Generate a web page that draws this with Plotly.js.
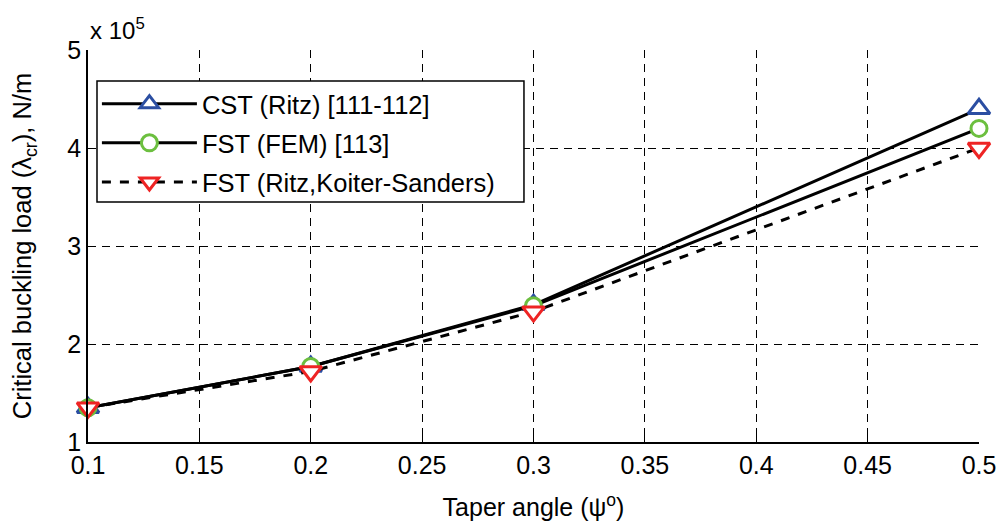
<!DOCTYPE html>
<html><head><meta charset="utf-8">
<script src="https://cdn.plot.ly/plotly-3.0.1.min.js"></script>
<style>body{margin:0;background:#fff}#c{width:1005px;height:523px}</style>
</head><body><div id="c"></div>
<script>
const taper = [0.1, 0.2, 0.3, 0.5];
const cstRitz = [1.35, 1.77, 2.40, 4.40];
const fstFem = [1.35, 1.77, 2.39, 4.20];
const fstRitzKS = [1.35, 1.72, 2.33, 4.00];
const names = ['CST (Ritz) [111-112]', 'FST (FEM) [113]', 'FST (Ritz,Koiter-Sanders)'];
const xTicks = [0.1, 0.15, 0.2, 0.25, 0.3, 0.35, 0.4, 0.45, 0.5];
const xTickText = ['0.1', '0.15', '0.2', '0.25', '0.3', '0.35', '0.4', '0.45', '0.5'];
const yTicks = [1, 2, 3, 4, 5];

const F = 'Liberation Sans, Arial, Helvetica, sans-serif';
function tr(y, name, sym, size, col, dash, grp) {
  return {x: taper, y: y, name: name, type: 'scatter', mode: 'lines+markers', legendgroup: grp,
    cliponaxis: false,
    line: {color: '#000', width: 3, dash: dash},
    marker: {symbol: sym, size: size, color: '#fff', line: {color: col, width: 3}}};
}
const data = [
  tr(cstRitz, names[0], 'triangle-up', 19, '#2b4ea2', 'solid', 'a'),
  tr(fstFem, names[1], 'circle', 16, '#6cbf3f', 'solid', 'b'),
  tr(fstRitzKS, names[2], 'triangle-down', 19, '#ee2424', 'dash', 'c')
];
const grid = {gridcolor: '#000', gridwidth: 1, griddash: '8px,6px'};
const layout = {
  width: 1005, height: 523,
  margin: {l: 88, r: 26, t: 50, b: 81},
  paper_bgcolor: '#fff', plot_bgcolor: '#fff',
  font: {family: F, size: 25, color: '#000'},
  showlegend: true,
  legend: {x: 0.01, y: 0.922, xanchor: 'left', yanchor: 'top', bgcolor: 'rgba(0,0,0,0)',
    borderwidth: 0, font: {family: F, size: 25.5, color: '#000'},
    traceorder: 'grouped', tracegroupgap: 3, itemwidth: 95},
  shapes: [{type: 'rect', xref: 'paper', yref: 'paper', x0: 0.0101, x1: 0.4893, y0: 0.612, y1: 0.921,
    fillcolor: '#fff', line: {color: '#000', width: 1.5}, layer: 'above'}],
  xaxis: Object.assign({range: [0.1, 0.5], tickvals: xTicks, ticktext: xTickText,
    showline: true, linecolor: '#000', linewidth: 1.5, ticks: 'inside', ticklen: 6, tickcolor: '#000',
    zeroline: false, showgrid: true, tickfont: {size: 25},
    title: {text: 'Taper angle (ψ<sup>o</sup>)', font: {size: 25}, standoff: 21}}, grid),
  yaxis: Object.assign({range: [1, 5], tickvals: yTicks,
    showline: true, linecolor: '#000', linewidth: 1.5, ticks: 'inside', ticklen: 6, tickcolor: '#000',
    zeroline: false, showgrid: true, tickfont: {size: 25},
    title: {text: 'Critical buckling load (λ<sub>cr</sub>), N/m', font: {size: 25.5}, standoff: 28}}, grid),
  annotations: [{xref: 'paper', yref: 'paper', x: 0, y: 1, xanchor: 'left', yanchor: 'bottom', yshift: 4,
    showarrow: false, text: 'x 10<sup>5</sup>', font: {size: 24}}]
};
Plotly.newPlot('c', data, layout, {displayModeBar: false});
</script></body></html>
